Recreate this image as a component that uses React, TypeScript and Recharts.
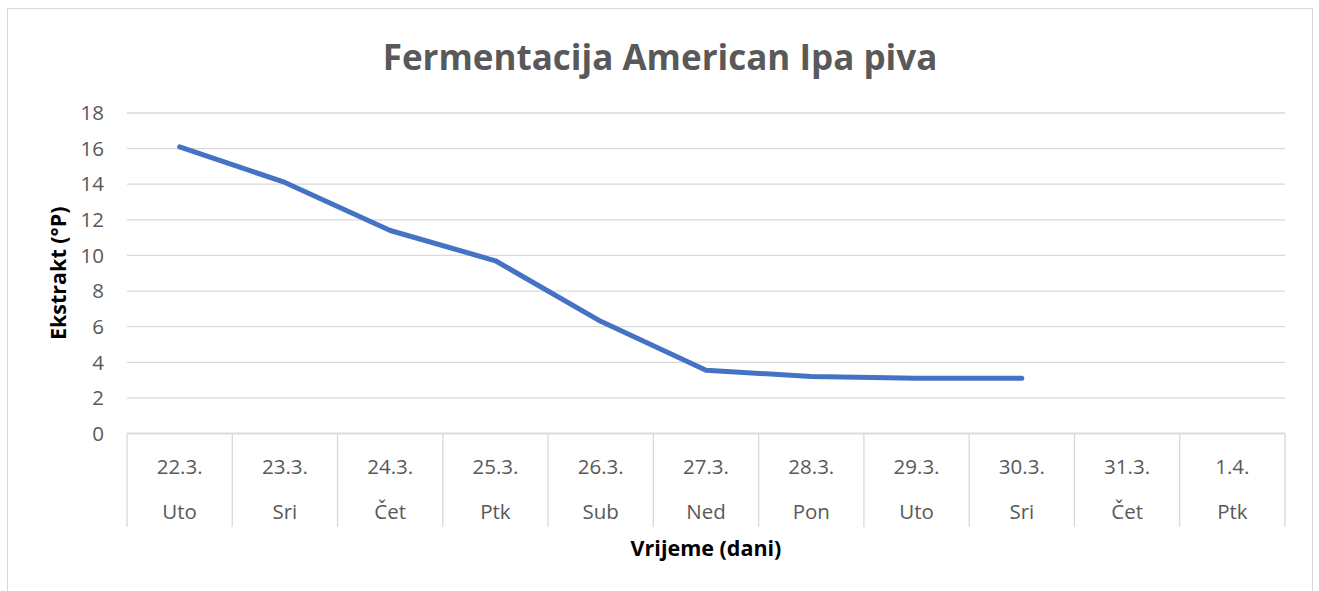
import React from 'react';
import { LineChart, Line, XAxis, YAxis, CartesianGrid } from 'recharts';

const dates = ['22.3.', '23.3.', '24.3.', '25.3.', '26.3.', '27.3.', '28.3.', '29.3.', '30.3.', '31.3.', '1.4.'];
const days = ['Uto', 'Sri', 'Čet', 'Ptk', 'Sub', 'Ned', 'Pon', 'Uto', 'Sri', 'Čet', 'Ptk'];
const ekstrakt: (number | null)[] = [16.1, 14.1, 11.4, 9.7, 6.3, 3.55, 3.2, 3.1, 3.1, null, null];
const yTicks = [0, 2, 4, 6, 8, 10, 12, 14, 16, 18];

const data = dates.map((d, i) => ({ key: d + '|' + days[i], date: d, day: days[i], value: ekstrakt[i] }));

const CHART_W = 1300;
const CHART_H = 580;
const MARGIN = { top: 104, right: 23, left: 0, bottom: 0 };
const Y_W = 119;
const PLOT_W = CHART_W - MARGIN.left - MARGIN.right - Y_W;
const BAND = PLOT_W / dates.length;
const FONT = '"Open Sans", Lato, sans-serif';
const GRID = '#d9d9d9';
const TXT = '#595959';
const TICK_FS = 20.5;
const LABEL_FS = 21.5;

const XTick = (props: any) => {
  const { x, y, payload, index } = props;
  const i = payload && payload.index != null ? payload.index : index;
  const item = data[i];
  const last = i === dates.length - 1;
  return (
    <g>
      <line x1={x - BAND / 2} x2={x - BAND / 2} y1={y} y2={y + 93.5} stroke={GRID} strokeWidth={1.3} />
      {last && <line x1={x + BAND / 2} x2={x + BAND / 2} y1={y} y2={y + 93.5} stroke={GRID} strokeWidth={1.3} />}
      <text x={x} y={y + 32.5} textAnchor="middle" dominantBaseline="central" fill={TXT} fontSize={TICK_FS} fontFamily={FONT}>
        {item ? item.date : ''}
      </text>
      <text x={x} y={y + 77.5} textAnchor="middle" dominantBaseline="central" fill={TXT} fontSize={TICK_FS} fontFamily={FONT}>
        {item ? item.day : ''}
      </text>
    </g>
  );
};

export default function App() {
  return (
    <div
      style={{
        position: 'absolute',
        left: 7,
        top: 8,
        width: 1306,
        height: 600,
        border: '1px solid #d9d9d9',
        boxSizing: 'border-box',
        background: '#fff',
        fontFamily: FONT,
      }}
    >
      <div
        style={{
          position: 'absolute',
          left: 0,
          width: '100%',
          top: 27,
          textAlign: 'center',
          fontSize: 35,
          fontWeight: 700,
          color: TXT,
          lineHeight: '42px',
        }}
      >
        Fermentacija American Ipa piva
      </div>
      <div style={{ position: 'absolute', left: 0, top: 0 }}>
        <LineChart width={CHART_W} height={CHART_H} data={data} margin={MARGIN}>
          <CartesianGrid horizontal vertical={false} stroke={GRID} strokeWidth={1.3} />
          <XAxis
            dataKey="key"
            type="category"
            height={CHART_H - MARGIN.top - 320.5}
            padding={{ left: BAND / 2, right: BAND / 2 }}
            axisLine={{ stroke: GRID, strokeWidth: 1.3 }}
            tickLine={false}
            tickSize={0}
            tickMargin={0}
            interval={0}
            tick={<XTick />}
            label={{
              content: (p: any) => {
                const vb = p.viewBox;
                return (
                  <text
                    x={vb.x + vb.width / 2}
                    y={vb.y + 113.5}
                    textAnchor="middle"
                    dominantBaseline="central"
                    fontSize={LABEL_FS}
                    fontWeight={700}
                    fill="#000"
                    fontFamily={FONT}
                  >
                    Vrijeme (dani)
                  </text>
                );
              },
            }}
          />
          <YAxis
            width={Y_W}
            domain={[0, 18]}
            ticks={yTicks}
            interval={0}
            axisLine={false}
            tickLine={false}
            tickSize={0}
            tickMargin={23}
            tick={{ fill: TXT, fontSize: TICK_FS, fontFamily: FONT }}
            label={{
              content: (p: any) => {
                const vb = p.viewBox;
                const cx = 49;
                const cy = vb.y + vb.height / 2;
                return (
                  <text
                    x={cx}
                    y={cy}
                    transform={`rotate(-90 ${cx} ${cy})`}
                    textAnchor="middle"
                    dominantBaseline="central"
                    fontSize={LABEL_FS}
                    fontWeight={700}
                    fill="#000"
                    fontFamily={FONT}
                  >
                    Ekstrakt (°P)
                  </text>
                );
              },
            }}
          />
          <Line
            type="linear"
            dataKey="value"
            stroke="#4472C4"
            strokeWidth={5}
            strokeLinecap="round"
            strokeLinejoin="round"
            dot={false}
            activeDot={false}
            connectNulls={false}
            isAnimationActive={false}
          />
        </LineChart>
      </div>
    </div>
  );
}
